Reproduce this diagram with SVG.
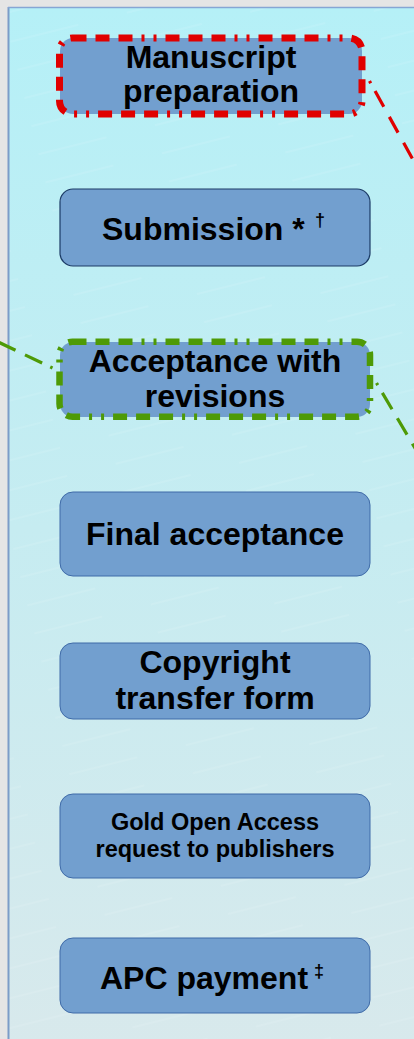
<svg xmlns="http://www.w3.org/2000/svg" width="414" height="1039" viewBox="0 0 414 1039">
  <defs>
    <linearGradient id="panelFill" x1="0" y1="0" x2="0" y2="1">
      <stop offset="0" stop-color="#b5f0f7"/>
      <stop offset="0.5" stop-color="#c6ecf1"/>
      <stop offset="1" stop-color="#d8e9ec"/>
    </linearGradient>
    <!-- faint diagonal streaks across the panel -->
    <pattern id="streaks" width="120" height="29" patternUnits="userSpaceOnUse" patternTransform="rotate(-14)">
      <line x1="0" y1="14" x2="120" y2="14" stroke="#ffffff" stroke-width="0.8" stroke-opacity="0.22" stroke-dasharray="70 50"/>
    </pattern>
    <style>
      .node { fill: #729fcf; stroke: #3f6ba8; stroke-width: 1; }
      .node.dark { stroke: #1c3b66; stroke-width: 1.2; }
      .label { font-family: "Liberation Sans", Arial, sans-serif; font-weight: bold; font-size: 32px; fill: #000000; text-anchor: middle; }
      .label.small { font-size: 23.5px; }
      .sup { font-family: "Liberation Sans", Arial, sans-serif; font-weight: bold; font-size: 18px; fill: #000000; }
      .hl-red { fill: none; stroke: #e00000; stroke-width: 7; stroke-dasharray: 14 9 14 9 14 9 3 9 3 9; }
      .hl-green { fill: none; stroke: #4e9a06; stroke-width: 6.5; stroke-dasharray: 14 9 14 9 14 9 3 9 3 9; }
      .link-red { fill: none; stroke: #e00000; stroke-width: 3.2; stroke-dasharray: 2.5 9 18 11.5 18 11.5 18 11.5; }
      .link-green { fill: none; stroke: #4e9a06; stroke-width: 3.2; stroke-dasharray: 2.5 9 19 10.5 19 10.5 19 10.5; }
    </style>
  </defs>

  <!-- surrounding canvas and panel -->
  <rect x="0" y="0" width="414" height="1039" fill="#e5e5e5"/>
  <rect x="9" y="8" width="410" height="1040" fill="url(#panelFill)"/>
  <rect x="9" y="8" width="410" height="1040" fill="url(#streaks)"/>
  <line x1="8.5" y1="7" x2="8.5" y2="1039" stroke="#7c9cc8" stroke-width="2"/>
  <line x1="8" y1="7.5" x2="414" y2="7.5" stroke="#86a6d4" stroke-width="1.5"/>

  <!-- connectors -->
  <g id="connectors">
    <line class="link-red" x1="369.5" y1="81" x2="422" y2="176"/>
    <line class="link-green" x1="376.5" y1="383" x2="422" y2="460"/>
    <line class="link-green" x1="52.5" y1="368" x2="-6" y2="340"/>
  </g>

  <g id="node-manuscript">
    <rect class="node" x="60" y="38" width="302" height="76" rx="13" style="stroke:none"/>
    <rect class="hl-red" x="59.5" y="38" width="302.5" height="76" rx="13"/>
    <text class="label" x="211" y="68">Manuscript</text>
    <text class="label" x="211" y="102">preparation</text>
  </g>

  <g id="node-submission">
    <rect class="node dark" x="60" y="189" width="310" height="77" rx="13"/>
    <text class="label" x="102" y="240" style="text-anchor:start">Submission *</text>
    <text class="sup" x="315" y="226">†</text>
  </g>

  <g id="node-acceptance-revisions">
    <rect class="node" x="60" y="342" width="310" height="75" rx="13" style="stroke:none"/>
    <rect class="hl-green" x="59.5" y="341.7" width="310.5" height="75" rx="13"/>
    <text class="label" x="215" y="372">Acceptance with</text>
    <text class="label" x="215" y="407">revisions</text>
  </g>

  <g id="node-final-acceptance">
    <rect class="node" x="60" y="492" width="310" height="84" rx="13"/>
    <text class="label" x="215" y="545">Final acceptance</text>
  </g>

  <g id="node-copyright">
    <rect class="node" x="60" y="643" width="310" height="76" rx="13"/>
    <text class="label" x="215" y="673">Copyright</text>
    <text class="label" x="215" y="709">transfer form</text>
  </g>

  <g id="node-gold-oa">
    <rect class="node" x="60" y="794" width="310" height="84" rx="13"/>
    <text class="label small" x="215" y="830">Gold Open Access</text>
    <text class="label small" x="215" y="857">request to publishers</text>
  </g>

  <g id="node-apc">
    <rect class="node" x="60" y="938" width="310" height="75" rx="13"/>
    <text class="label" x="100" y="989" style="text-anchor:start">APC payment</text>
    <text class="sup" x="314" y="977">‡</text>
  </g>
</svg>
